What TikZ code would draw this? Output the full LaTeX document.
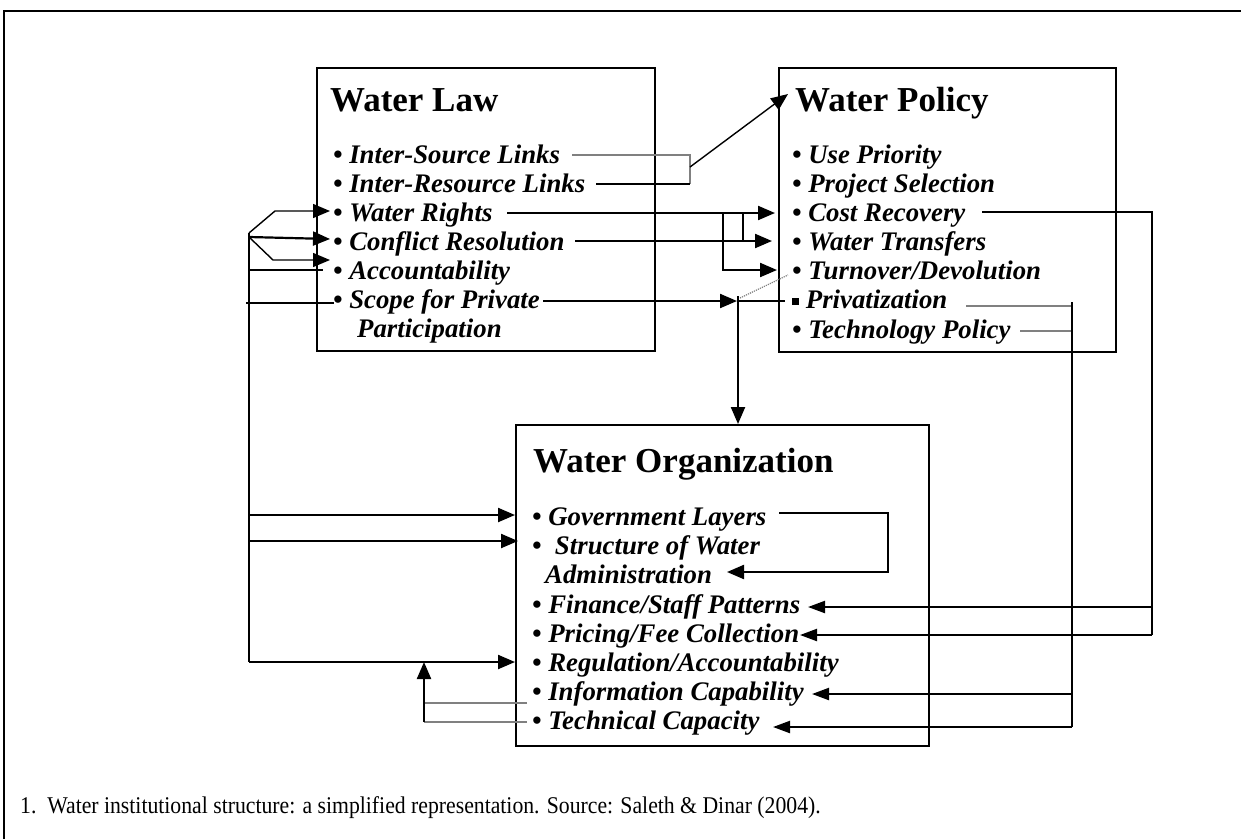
\documentclass[tikz,border=0pt]{standalone}
\usepackage{fontspec}
\setmainfont{Liberation Serif}
\usetikzlibrary{arrows.meta}
\begin{document}
\begin{tikzpicture}[x=1pt,y=-1pt,
  box/.style={draw,line width=1.8pt,inner sep=0pt,anchor=north west},
  title/.style={anchor=base west,inner sep=0pt,font=\fontsize{35}{40}\selectfont\bfseries},
  item/.style={anchor=base west,inner sep=0pt,font=\fontsize{26.8}{29}\selectfont\bfseries\itshape},
  link/.style={line width=2.2pt},
  fine/.style={line width=1.4pt},
  grey/.style={line width=1.2pt,black!50},
  arr/.style={-{Triangle[length=17pt,width=14pt]}},
  arrs/.style={-{Triangle[length=17pt,width=12pt]}},
]
\useasboundingbox (0,0) rectangle (1241,839);

% outer frame (top and left only)
\draw[line width=2.5pt] (4,839) -- (4,11) -- (1241,11);

% ---------- boxes ----------
\node[box,minimum width=338pt,minimum height=283pt] (law) at (316,67) {};
\node[box,minimum width=337pt,minimum height=284pt] (pol) at (778,67) {};
\node[box,minimum width=413pt,minimum height=321pt] (org) at (515,424) {};

% ---------- Water Law ----------
\node[title] (lawT) at (330,111) {Water Law};
\node[item] (law1) at (333,163) {\textbullet\ Inter-Source Links};
\node[item] (law2) at (333,192) {\textbullet\ Inter-Resource Links};
\node[item] (law3) at (333,221) {\textbullet\ Water Rights};
\node[item] (law4) at (333,250) {\textbullet\ Conflict Resolution};
\node[item] (law5) at (333,279) {\textbullet\ Accountability};
\node[item] (law6) at (333,308) {\textbullet\ Scope for Private};
\node[item] (law7) at (357,337) {Participation};

% ---------- Water Policy ----------
\node[title] (polT) at (795,111) {Water Policy};
\node[item] (pol1) at (792,163) {\textbullet\ Use Priority};
\node[item] (pol2) at (792,192) {\textbullet\ Project Selection};
\node[item] (pol3) at (792,221) {\textbullet\ Cost Recovery};
\node[item] (pol4) at (792,250) {\textbullet\ Water Transfers};
\node[item] (pol5) at (792,279) {\textbullet\ Turnover/Devolution};
\node[item] (pol6) at (792,308) {\rule[0.12em]{0.26em}{0.26em}\ Privatization};
\node[item] (pol7) at (792,338) {\textbullet\ Technology Policy};

% ---------- Water Organization ----------
\node[title] (orgT) at (533,472) {Water Organization};
\node[item] (org1) at (532,525) {\textbullet\ Government Layers};
\node[item] (org2) at (532,554) {\textbullet\ \ Structure of Water};
\node[item] (org3) at (545,583) {Administration};
\node[item] (org4) at (532,613) {\textbullet\ Finance/Staff Patterns};
\node[item] (org5) at (532,642) {\textbullet\ Pricing/Fee Collection};
\node[item] (org6) at (532,671) {\textbullet\ Regulation/Accountability};
\node[item] (org7) at (532,700) {\textbullet\ Information Capability};
\node[item] (org8) at (532,729) {\textbullet\ Technical Capacity};

% caption
\node[anchor=base west,inner sep=0pt,font=\fontsize{24}{28}\selectfont] (cap) at (20,813)
  {\scalebox{0.905}[1]{1.\ \ Water institutional structure: a simplified representation. Source: Saleth \& Dinar (2004).}};

% ---------- connector end points ----------
\coordinate (isl) at (572,155);
\coordinate (irl) at (596,184);
\coordinate (lkA) at (690,155);
\coordinate (lkB) at (690,184);
\coordinate (lkM) at (690,167);
\coordinate (polTip) at (788,94);

\coordinate (wr) at (507,213);
\coordinate (wrTip) at (775,213);
\coordinate (cr) at (575,241);
\coordinate (crTip) at (772,241);
\coordinate (brA) at (723,213);
\coordinate (brA2) at (723,270);
\coordinate (tdTip) at (777,270);
\coordinate (brB) at (743,213);
\coordinate (brB2) at (743,241);

\coordinate (sp) at (543,301);
\coordinate (spTip) at (737,301);
\coordinate (dn) at (738,296);
\coordinate (dnM) at (738,301);
\coordinate (dnD) at (740,298);
\coordinate (prv) at (785,301);
\coordinate (tdb) at (788,275);

% left bus
\coordinate (busT) at (249,233);
\coordinate (busC) at (249,237);
\coordinate (busB) at (249,662);
\coordinate (kWR) at (275,211);
\coordinate (tWR) at (330,211);
\coordinate (tCR) at (330,239);
\coordinate (kLo) at (273,260);
\coordinate (tLo) at (330,260);
\coordinate (bAc) at (249,270);
\coordinate (eAc) at (323,270);
\coordinate (bSp) at (246,303);
\coordinate (eSp) at (334,303);
\coordinate (bGL) at (249,515);
\coordinate (tGL) at (515,515);
\coordinate (bSW) at (249,541);
\coordinate (tSW) at (518,541);
\coordinate (tRA) at (515,662);

% cost recovery
\coordinate (cst) at (982,212);
\coordinate (cstR) at (1152,212);
\coordinate (cstB) at (1152,635);
\coordinate (cstF) at (1152,607);
\coordinate (tFS) at (808,607);
\coordinate (tPF) at (800,635);

% privatization / technology
\coordinate (prE) at (966,306);
\coordinate (tpE) at (1020,331);
\coordinate (ptT) at (1072,302);
\coordinate (ptP) at (1072,306);
\coordinate (ptQ) at (1072,331);
\coordinate (ptI) at (1072,694);
\coordinate (ptB) at (1072,727);
\coordinate (tIC) at (812,694);
\coordinate (tTC) at (773,727);

% government layers loop
\coordinate (glE) at (779,513);
\coordinate (glR) at (888,513);
\coordinate (glD) at (888,572);
\coordinate (tAd) at (727,572);

% information / technical back to regulation
\coordinate (icE) at (527,703);
\coordinate (tcE) at (527,722);
\coordinate (upA) at (424,703);
\coordinate (upB) at (424,722);
\coordinate (upT) at (424,662);

% ---------- connectors ----------
% links to water policy
\draw[grey] (isl) -- (lkA) -- (lkB);
\draw[fine] (irl) -- (lkB);
\draw[fine,arr] (lkM) -- (polTip);

% rights and conflict resolution
\draw[link,arr] (wr) -- (wrTip);
\draw[link,arr] (cr) -- (crTip);
\draw[link,arr] (brA) -- (brA2) -- (tdTip);
\draw[link] (brB) -- (brB2);

% private participation and the way down to the organization
\draw[link,arr] (sp) -- (spTip);
\draw[link,arr] (dn) -- (org.north -| dn);
\draw[fine] (dnM) -- (prv);
\draw[grey,densely dotted] (dnD) -- (tdb);

% left bus
\draw[link] (busT) -- (busB);
\draw[fine,arr] (busT) -- (kWR) -- (tWR);
\draw[link,arr] (busC) -- (tCR);
\draw[fine,arr] (busC) -- (kLo) -- (tLo);
\draw[link] (bAc) -- (eAc);
\draw[fine] (bSp) -- (eSp);
\draw[link,arr] (bGL) -- (tGL);
\draw[link,arr] (bSW) -- (tSW);
\draw[link,arr] (busB) -- (tRA);

% cost recovery to finance and pricing
\draw[link] (cst) -- (cstR) -- (cstB);
\draw[link,arrs] (cstF) -- (tFS);
\draw[link,arrs] (cstB) -- (tPF);

% privatization and technology to capability
\draw[grey] (prE) -- (ptP);
\draw[grey] (tpE) -- (ptQ);
\draw[link] (ptT) -- (ptB);
\draw[link,arrs] (ptI) -- (tIC);
\draw[link,arrs] (ptB) -- (tTC);

% government layers to administration
\draw[link,arr] (glE) -- (glR) -- (glD) -- (tAd);

% information and technical capacity to regulation
\draw[grey] (icE) -- (upA);
\draw[grey] (tcE) -- (upB);
\draw[link,arr] (upB) -- (upT);
\end{tikzpicture}
\end{document}
